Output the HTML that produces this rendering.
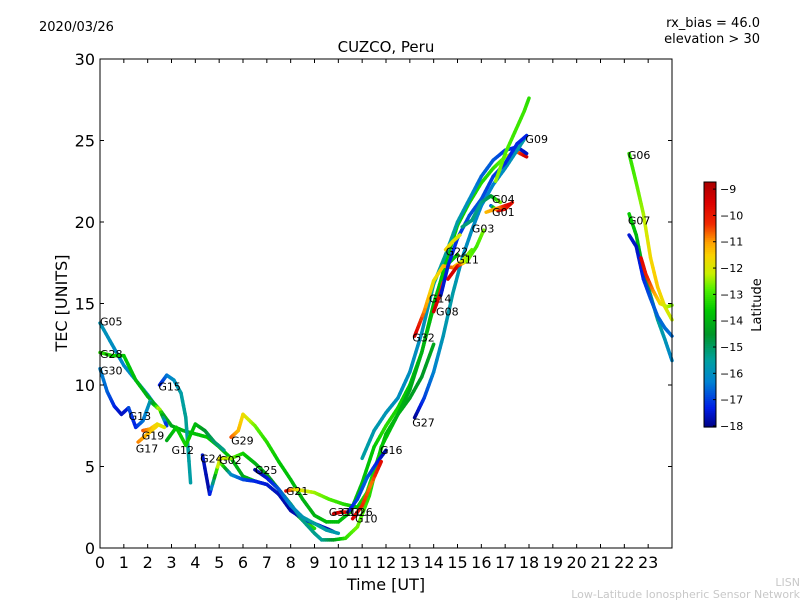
<!DOCTYPE html>
<html><head><meta charset="utf-8"><style>
body{margin:0;background:#fff}
svg{display:block;font-family:"DejaVu Sans","Liberation Sans",sans-serif}
</style></head><body>
<svg id="chart" width="800" height="600" viewBox="0 0 800 600" xmlns="http://www.w3.org/2000/svg">
<rect width="800" height="600" fill="#fff"/>
<text x="39" y="31" font-size="13">2020/03/26</text>
<text x="760" y="27" font-size="13" text-anchor="end">rx_bias = 46.0</text>
<text x="760" y="43" font-size="13" text-anchor="end">elevation &gt; 30</text>
<text x="386" y="52" font-size="15" text-anchor="middle">CUZCO, Peru</text>
<text x="386" y="590" font-size="16" text-anchor="middle">Time [UT]</text>
<text x="67" y="303" font-size="16" text-anchor="middle" transform="rotate(-90 67 303)">TEC [UNITS]</text>
<text x="800" y="586" font-size="11" fill="#c8c8c8" text-anchor="end">LISN</text>
<text x="800" y="598" font-size="11" fill="#c8c8c8" text-anchor="end">Low-Latitude Ionospheric Sensor Network</text>
<g id="marks"></g>
<g id="axes"></g>
</svg>
<script>
const xTicks=[0,1,2,3,4,5,6,7,8,9,10,11,12,13,14,15,16,17,18,19,20,21,22,23];
const yTicks=[0,5,10,15,20,25,30];
const cbTicks=[-9,-10,-11,-12,-13,-14,-15,-16,-17,-18];
const latMin=-18.04, latMax=-8.73;
const satNames=["G05","G28","G30","G15","G13","G19","G17","G12","G24","G02","G29","G25","G21","G31","G26","G10","G16","G27","G32","G14","G08","G22","G11","G03","G04","G01","G09","G06","G07","G07b","G20"];
const satT=[
[0,0.5,1,1.5,2,2.4],
[0,0.5,1,1.5,2,2.5,3,3.5,4,4.5,5,5.5,6,6.5,7,7.5,8,8.5,9],
[0,0.3,0.6,0.9,1.2],
[2.5,2.8,3.1,3.4,3.6,3.8],
[1.2,1.5,1.8,2.1,2.5,2.8],
[1.8,2.1,2.4,2.7],
[1.6,2,2.4],
[2.8,3.2,3.6,4,4.4,4.8,5.2],
[4.3,4.6,5,5.5,6,6.5,7,7.5,8,8.5,9,9.5,9.8],
[5,5.5,6,6.5,7,7.5,8,8.5,9,9.3,9.8,10.3,10.8,11.3,11.8,12.5,13,13.5,14],
[5.5,5.8,6,6.5,7,7.5,8,8.5,9,9.5,10,10.5,11,11.5,12,12.5,13,13.5,14,14.5,15],
[6.5,7,7.5,8,8.5,9,9.5,10],
[7.8,8.2,9,9.6,10.2,10.8,11.2,11.6,12,12.5,13,13.5,14,14.5,15,15.5,16,16.5,17,17.5,17.9],
[9.8,10.1,10.4],
[10.4,10.8,11.2,11.6,12],
[10.6,11,11.4,11.8],
[11,11.5,12,12.5,13,13.5,14,14.5,15,15.5,16,16.5,17,17.5,17.9],
[13.2,13.6,14,14.4,14.8,15.2,15.6,16,16.5,17,17.5,17.9],
[13.2,13.6,14,14.4,14.8,15.2,15.6],
[14,14.2,14.4],
[14.3,14.6,15,15.5,16,16.5,17,17.5,17.9],
[14.5,14.8,15.1],
[14.6,15,15.4,15.8,16.1],
[15.2,15.6,16,16.4,16.8],
[16.4,16.7,17,17.3],
[16.2,16.8,17.2],
[16.6,17,17.4,17.8,18],
[22.2,22.5,22.8,23.1,23.4,23.7,24],
[22.2,22.5,22.8,23.1,23.4,23.7,24],
[22.2,22.5,22.8,23.1,23.4,23.7,24],
[22.7,22.9,23.2,23.5,23.8,24]];
const satV=[
[13.8,12.5,11.2,10.3,9.4,8.6],
[12,11.8,11.8,10.3,9.3,8.5,7.5,7.2,7,6.8,6.2,5.5,4.4,4.1,3.9,3.3,2.4,1.7,1.2],
[11,9.6,8.7,8.2,8.6],
[10,10.6,10.3,9.5,8,4],
[8.6,7.4,7.8,9,8.5,7.5],
[7.2,7.3,7.6,7.4],
[6.5,7,7.5],
[6.6,7.4,6.3,7.6,7.2,6.5,6],
[5.7,3.3,5.3,4.5,4.2,4.1,3.9,3.3,2.3,1.8,1.5,1.2,1],
[5.5,5.5,5.8,5.2,4.5,3.6,2.7,1.7,0.9,0.5,0.5,0.6,1.3,3.2,6.2,8.2,9.2,10.5,12.5],
[6.8,7.2,8.2,7.5,6.5,5.3,4.2,3,2,1.6,1.6,2.2,4,6.2,7.5,8.6,10,12,15,17.3,18],
[4.8,4.3,3.6,2.6,1.9,1.5,1.1,0.9],
[3.5,3.6,3.4,3,2.7,2.5,3.4,5.2,7,8.2,9.7,12,14.8,17.5,19.8,21.2,22.4,23.3,24,24.3,24],
[2.1,2.2,2.2],
[2.2,3,4.3,5.2,6],
[1.8,2.6,4,5.3],
[5.5,7.2,8.3,9.2,10.8,13.2,16.2,18,20,21.4,22.8,23.8,24.4,24.6,24.2],
[8,9.2,10.8,13,15.6,17.8,19.5,21,22.3,23.3,24.4,25.3],
[13,14.5,16.4,17.3,17.2,17.6,18.3],
[14.5,15.3,16.3],
[15.5,17.3,19,20.4,21.4,22.8,23.6,24.8,25.3],
[18.3,18.8,19.2],
[16.5,17.3,17.6,18.5,19.5],
[19.7,20.1,21.2,21.6,21.2],
[21,20.7,20.8,21.2],
[20.6,20.9,21.1],
[22.5,24.2,25.5,26.8,27.6],
[24.2,22.4,20.5,17.8,16,14.8,14],
[20.5,19.2,17,15.5,14,12.8,11.5],
[19.2,18.5,16.5,15.3,14.2,13.5,13],
[17.8,16.8,15.8,15,14.8,14.9]];
const satL=[
[-15.8,-16,-16.2,-16,-16,-16.4],
[-13.2,-13.4,-13.6,-13.8,-14,-14,-14.2,-14,-13.8,-13.6,-13.6,-13.8,-14.2,-13.8,-13.5,-13.3,-13.2,-13.3,-13.3],
[-16.2,-16.6,-17.2,-17.6,-17.4],
[-17.5,-16.5,-16,-15.6,-15.4,-15.6],
[-16.8,-17.3,-16.5,-15.8,-12,-17.5],
[-10.5,-11,-11.7,-12],
[-10.8,-11.2,-11.6],
[-14.2,-13.6,-13.4,-13.8,-14.5,-15,-15.3],
[-17.5,-17.8,-11.6,-16,-16.8,-17.2,-17.4,-17.6,-17.8,-17.5,-17.3,-17.6,-18],
[-11.8,-12.4,-13.4,-14,-14.2,-14.6,-15.2,-15.3,-15.3,-15.5,-14.5,-13.2,-12.6,-13.2,-13.4,-14,-14.3,-14.5,-14.2],
[-10.5,-11.2,-11.6,-12.6,-13.2,-13.6,-13.8,-14,-14,-13.8,-13.8,-13.8,-13.8,-13.6,-13.2,-13.4,-13.6,-13.6,-13.8,-13.8,-13.6],
[-17.8,-17.5,-16.8,-16.2,-15.8,-15.4,-15.6,-15.7],
[-9.5,-11.6,-12.4,-12.8,-13.2,-13.6,-13.2,-13.4,-13.8,-14,-14.2,-14,-13.8,-13.6,-13.5,-13.4,-13.3,-13.2,-12.6,-11,-9.2],
[-9,-9.5,-10],
[-17.5,-17,-16.6,-17.2,-17.8],
[-9.3,-10.2,-10.8,-9.6],
[-15.5,-15.7,-15.8,-16,-16,-16,-15.6,-15.4,-15.6,-16,-16.6,-16.7,-17,-17.3,-17.6],
[-18,-17,-16.3,-15.8,-15.6,-16,-16,-16.3,-16.2,-16,-15.8,-15.5],
[-9.2,-10.8,-11.8,-11.3,-10.6,-12,-12.8],
[-9.2,-9.6,-10.5],
[-17.5,-17.4,-17.1,-16.8,-16.8,-17,-17.2,-17.2,-17.3],
[-11.5,-11.8,-12],
[-9.5,-9.3,-12.5,-13,-12.6],
[-15.2,-15.2,-15.4,-14.8,-12.4],
[-17.5,-9.5,-9.8,-10],
[-11.3,-10.8,-9.4],
[-12.4,-12.8,-13,-13,-13.2],
[-13.2,-12.8,-12.4,-11.6,-11.4,-11.8,-12.2],
[-13.5,-13.8,-14.4,-15,-15.4,-15.8,-16.2],
[-17.4,-17.6,-17.2,-16.8,-16.6,-16.5,-16.5],
[-9.5,-10,-10.8,-11.6,-12.2,-12.6]];
const labelNames=["G05","G28","G30","G15","G13","G19","G17","G12","G24","G02","G29","G25","G21","G31","G10","G26","G10","G16","G27","G32","G14","G08","G22","G11","G03","G04","G01","G09","G06","G07"];
const labelT=[0,0,0,2.45,1.2,1.75,1.5,3,4.2,5,5.5,6.5,7.8,9.6,10.1,10.5,10.7,11.75,13.1,13.1,13.8,14.1,14.5,14.95,15.6,16.45,16.45,17.85,22.15,22.15];
const labelV=[13.9,11.9,10.9,9.9,8.1,6.9,6.1,6.0,5.5,5.4,6.6,4.8,3.5,2.2,2.2,2.2,1.8,6.0,7.7,12.9,15.3,14.5,18.2,17.7,19.6,21.4,20.6,25.1,24.1,20.1];

const X0=100,X1=672,Y0=548,Y1=59;
const xs=t=>X0+t*(X1-X0)/24;
const ys=v=>Y0-v*(Y0-Y1)/30;
const NS="http://www.w3.org/2000/svg";
function mk(tag,attrs,parent){const e=document.createElementNS(NS,tag);for(const k in attrs)e.setAttribute(k,attrs[k]);parent.appendChild(e);return e;}
const stops=[[-18.04,0,0,130],[-17.3,0,30,230],[-16.3,0,130,210],[-15.5,0,160,160],[-14.5,0,150,40],[-13.6,0,200,0],[-12.8,80,240,0],[-12.2,200,240,0],[-11.5,250,210,0],[-11,255,160,0],[-10.3,240,40,0],[-9.5,220,0,0],[-8.73,170,0,0]];
function latCol(l){
 if(l<=stops[0][0])return `rgb(${stops[0][1]},${stops[0][2]},${stops[0][3]})`;
 for(let i=0;i<stops.length-1;i++){const a=stops[i],b=stops[i+1];
  if(l<=b[0]){const f=(l-a[0])/(b[0]-a[0]);
   return `rgb(${Math.round(a[1]+(b[1]-a[1])*f)},${Math.round(a[2]+(b[2]-a[2])*f)},${Math.round(a[3]+(b[3]-a[3])*f)})`;}}
 const s=stops[stops.length-1];return `rgb(${s[1]},${s[2]},${s[3]})`;}
const marks=document.getElementById('marks');
const axes=document.getElementById('axes');
for(let s=0;s<satNames.length;s++){
 const g=mk('g',{},marks);
 
 
 const T=satT[s],V=satV[s],L=satL[s];
 for(let i=0;i<T.length-1;i++){
  const n=6;
  for(let k=0;k<n;k++){
   const a=k/n,b=(k+1)/n;
   const ta=T[i]+(T[i+1]-T[i])*a,tb=T[i]+(T[i+1]-T[i])*b;
   const va=V[i]+(V[i+1]-V[i])*a,vb=V[i]+(V[i+1]-V[i])*b;
   const la=L[i]+(L[i+1]-L[i])*(a+b)/2;
   mk('line',{x1:xs(ta),y1:ys(va),x2:xs(tb),y2:ys(vb),stroke:latCol(la),'stroke-width':3.5,'stroke-linecap':'round'},g);
  }
 }
}
for(let i=0;i<labelNames.length;i++){
 const t=mk('text',{x:xs(labelT[i]),y:ys(labelV[i])+4,'font-size':11},marks);
 
 
 t.textContent=labelNames[i];
}
mk('rect',{x:X0,y:Y1,width:X1-X0,height:Y0-Y1,fill:'none',stroke:'#000','stroke-width':1},axes);
xTicks.forEach(v=>{const x=xs(v);
 mk('line',{x1:x,y1:Y0,x2:x,y2:Y0-4,stroke:'#000'},axes);
 mk('line',{x1:x,y1:Y1,x2:x,y2:Y1+4,stroke:'#000'},axes);
 const t=mk('text',{x:x,y:Y0+20,'font-size':16,'text-anchor':'middle'},axes);
 
 
 t.textContent=v;});
yTicks.forEach(v=>{const y=ys(v);
 mk('line',{x1:X0,y1:y,x2:X0+4,y2:y,stroke:'#000'},axes);
 mk('line',{x1:X1,y1:y,x2:X1-4,y2:y,stroke:'#000'},axes);
 const t=mk('text',{x:X0-5,y:y+6,'font-size':16,'text-anchor':'end'},axes);
 
 
 t.textContent=v;});
const CB={x:704,w:12,top:182,bot:427};
const cbY=l=>CB.bot-(l-latMin)/(latMax-latMin)*(CB.bot-CB.top);
const cb=mk('g',{},axes);


const NB=120;
for(let i=0;i<NB;i++){const f0=i/NB,f1=(i+1)/NB;
 mk('rect',{x:CB.x,y:CB.bot-f1*(CB.bot-CB.top),width:CB.w,height:(CB.bot-CB.top)/NB+0.6,fill:latCol(latMin+(f0+f1)/2*(latMax-latMin))},cb);}
mk('rect',{x:CB.x,y:CB.top,width:CB.w,height:CB.bot-CB.top,fill:'none',stroke:'#000'},cb);
cbTicks.forEach(v=>{const y=cbY(v);
 mk('line',{x1:CB.x+CB.w-3,y1:y,x2:CB.x+CB.w,y2:y,stroke:'#000'},cb);
 const t=mk('text',{x:CB.x+CB.w+4,y:y+4,'font-size':11},cb);
 
 
 t.textContent='\u2212'+Math.abs(v);});
const ct=mk('text',{x:761,y:305,'font-size':13,'text-anchor':'middle',transform:'rotate(-90 761 305)'},cb);


ct.textContent='Latitude';
</script>
</body></html>
